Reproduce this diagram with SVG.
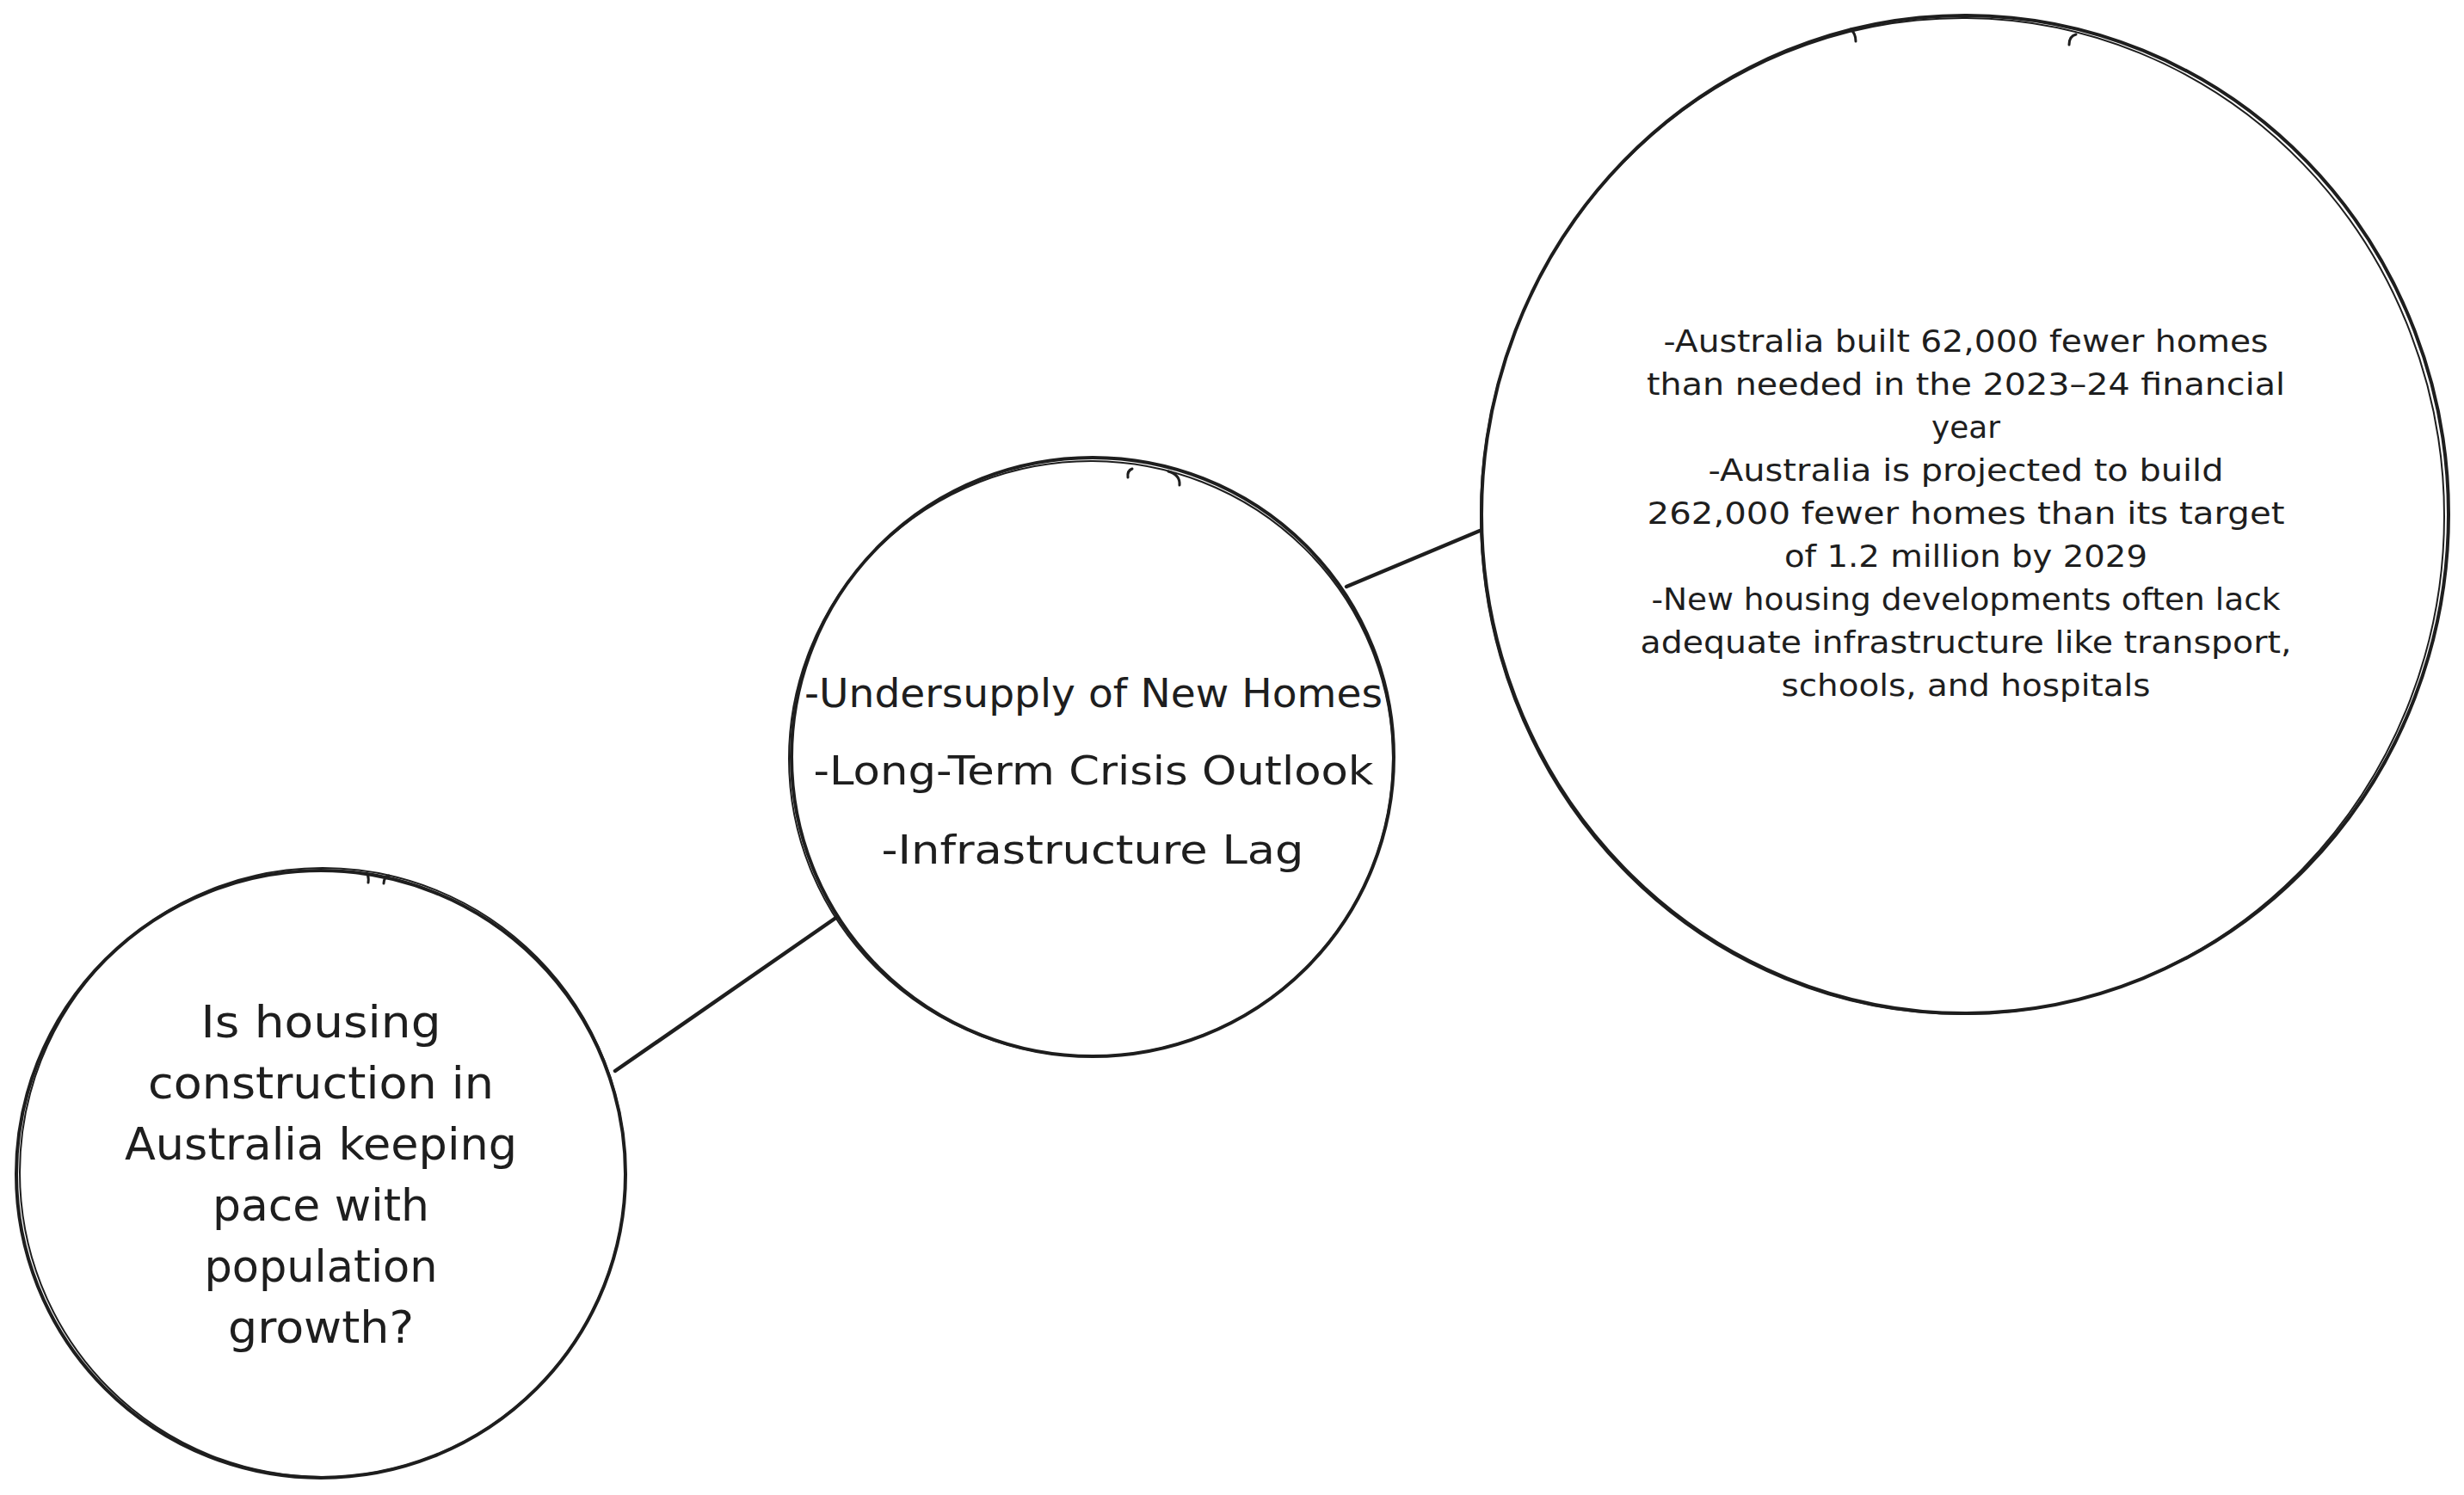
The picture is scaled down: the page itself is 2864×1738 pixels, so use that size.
<svg xmlns="http://www.w3.org/2000/svg" width="2864" height="1738" viewBox="0 0 2864 1738">
<style>
.shape{fill:none;stroke:#1e1e1e;stroke-width:4;stroke-linecap:round}
.shape2{fill:none;stroke:#1e1e1e;stroke-width:2;stroke-linecap:round}
.tick{fill:none;stroke:#1e1e1e;stroke-width:3;stroke-linecap:round}
.edge{fill:none;stroke:#1e1e1e;stroke-width:4.5;stroke-linecap:round}
text{font-family:"DejaVu Sans","Liberation Sans",sans-serif;fill:#1e1e1e;text-anchor:middle}
.t1{font-size:52px}
.t2{font-size:47px}
.t3{font-size:35px}
</style>
<rect x="0" y="0" width="2864" height="1738" fill="#ffffff"/>
<g id="connectors">
<line class="edge" x1="715" y1="1245" x2="973" y2="1066"/>
<line class="edge" x1="1565" y1="682" x2="1720" y2="617"/>
</g>
<g id="node-question">
<ellipse class="shape" cx="373" cy="1365" rx="354" ry="353"/>
<ellipse class="shape2" cx="375" cy="1363" rx="352" ry="354"/>
<path class="tick" d="M426 1015 q3 3 2 11"/>
<path class="tick" d="M452 1018 q-6 2 -6 9"/>
<text class="t1" x="373" y="1206" textLength="279" lengthAdjust="spacingAndGlyphs">Is housing</text>
<text class="t1" x="373" y="1277" textLength="402" lengthAdjust="spacingAndGlyphs">construction in</text>
<text class="t1" x="373" y="1348" textLength="456" lengthAdjust="spacingAndGlyphs">Australia keeping</text>
<text class="t1" x="373" y="1419" textLength="252" lengthAdjust="spacingAndGlyphs">pace with</text>
<text class="t1" x="373" y="1490" textLength="271" lengthAdjust="spacingAndGlyphs">population</text>
<text class="t1" x="373" y="1561" textLength="216" lengthAdjust="spacingAndGlyphs">growth?</text>
</g>
<g id="node-issues">
<ellipse class="shape" cx="1270" cy="880" rx="350" ry="348"/>
<ellipse class="shape2" cx="1268" cy="882" rx="351" ry="346"/>
<path class="tick" d="M1316 545 q-6 2 -5 10"/>
<path class="tick" d="M1358 548 q14 4 13 16"/>
<text class="t2" x="1271" y="822" textLength="672" lengthAdjust="spacingAndGlyphs">-Undersupply of New Homes</text>
<text class="t2" x="1271" y="912" textLength="651" lengthAdjust="spacingAndGlyphs">-Long-Term Crisis Outlook</text>
<text class="t2" x="1270" y="1004" textLength="491" lengthAdjust="spacingAndGlyphs">-Infrastructure Lag</text>
</g>
<g id="node-facts">
<ellipse class="shape" cx="2284" cy="598" rx="562" ry="580"/>
<ellipse class="shape2" cx="2281" cy="600" rx="560" ry="579"/>
<path class="tick" d="M2151 34 q6 5 6 14"/>
<path class="tick" d="M2413 40 q-8 2 -8 12"/>
<text class="t3" x="2285" y="409" textLength="703" lengthAdjust="spacingAndGlyphs">-Australia built 62,000 fewer homes</text>
<text class="t3" x="2285" y="459" textLength="742" lengthAdjust="spacingAndGlyphs">than needed in the 2023–24 financial</text>
<text class="t3" x="2285" y="509" textLength="80" lengthAdjust="spacingAndGlyphs">year</text>
<text class="t3" x="2285" y="559" textLength="599" lengthAdjust="spacingAndGlyphs">-Australia is projected to build</text>
<text class="t3" x="2285" y="609" textLength="741" lengthAdjust="spacingAndGlyphs">262,000 fewer homes than its target</text>
<text class="t3" x="2285" y="659" textLength="422" lengthAdjust="spacingAndGlyphs">of 1.2 million by 2029</text>
<text class="t3" x="2285" y="709" textLength="731" lengthAdjust="spacingAndGlyphs">-New housing developments often lack</text>
<text class="t3" x="2285" y="759" textLength="757" lengthAdjust="spacingAndGlyphs">adequate infrastructure like transport,</text>
<text class="t3" x="2285" y="809" textLength="429" lengthAdjust="spacingAndGlyphs">schools, and hospitals</text>
</g>
</svg>
